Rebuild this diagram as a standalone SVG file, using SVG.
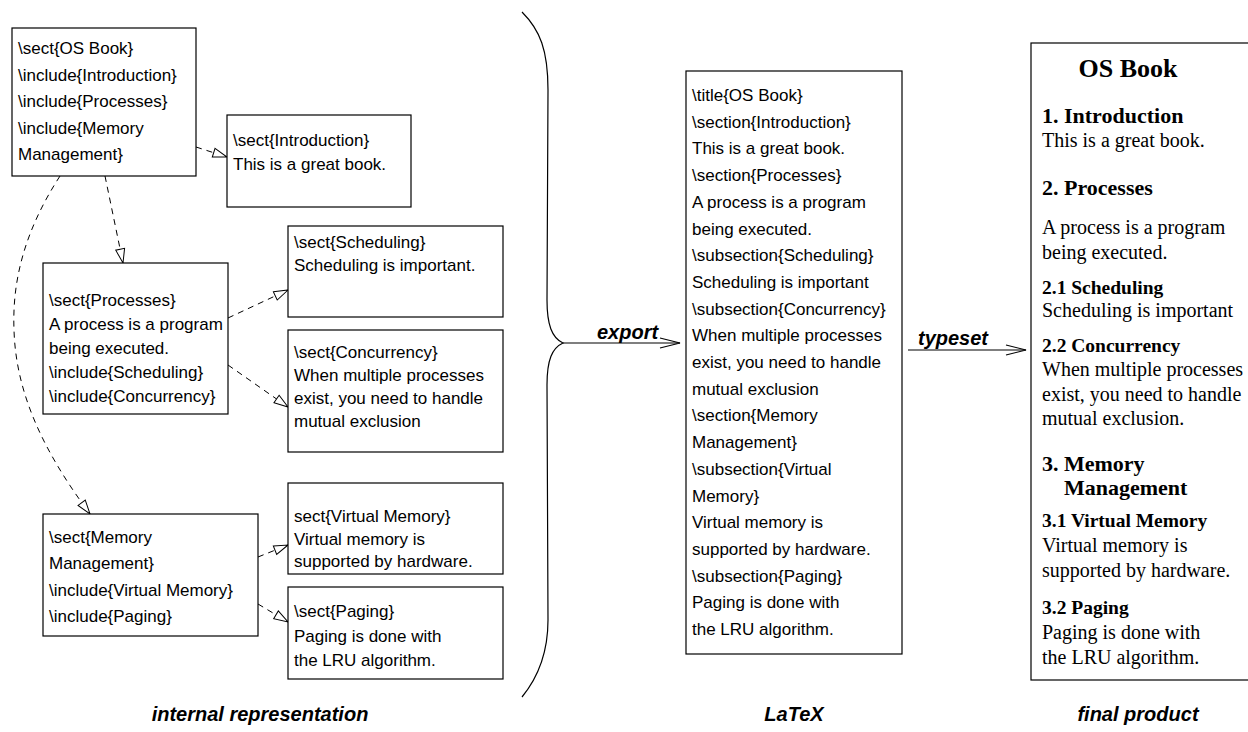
<svg xmlns="http://www.w3.org/2000/svg" width="1248" height="732" viewBox="0 0 1248 732">
<style>
.box{fill:#fff;stroke:#000;stroke-width:1.2}
.t{font-family:"Liberation Sans",Arial,sans-serif;font-size:17px;fill:#000}
.s{font-family:"Liberation Serif","Times New Roman",serif;font-size:20px;fill:#000}
.h{font-family:"Liberation Serif","Times New Roman",serif;font-size:22px;font-weight:bold;fill:#000}
.h2{font-family:"Liberation Serif","Times New Roman",serif;font-size:19.5px;font-weight:bold;fill:#000}
.lbl{font-family:"Liberation Sans",Arial,sans-serif;font-size:20px;font-weight:bold;font-style:italic;fill:#000}
.dash{fill:none;stroke:#000;stroke-width:1;stroke-dasharray:6,5;marker-end:url(#tri)}
.solid{fill:none;stroke:#000;stroke-width:1.2}
</style>
<defs>
<marker id="tri" markerUnits="userSpaceOnUse" markerWidth="16" markerHeight="12" refX="15" refY="6" orient="auto">
<path d="M1,1.5 L15,6 L1,10.5 Z" fill="#fff" stroke="#000" stroke-width="1" stroke-dasharray="none"/>
</marker>
<marker id="vee" markerUnits="userSpaceOnUse" markerWidth="22" markerHeight="14" refX="21" refY="7" orient="auto">
<path d="M1,2 L21,7 L1,12" fill="none" stroke="#000" stroke-width="1.2"/>
</marker>
</defs>

<g id="connectors">
<path class="dash" d="M196,147 L227,157"/>
<path class="dash" d="M105,176 L123,263"/>
<path class="dash" d="M60,176 C25,230 12,280 14,330 C16,400 50,460 90,514"/>
<path class="dash" d="M228,318 L288,290"/>
<path class="dash" d="M228,365 L288,407"/>
<path class="dash" d="M258,557 L288,545"/>
<path class="dash" d="M258,604 L288,622"/>
<path class="solid" d="M522,12 C540,30 548,50 548,90 L547,300 C547,325 552,338 563,343 C552,348 547,360 547,385 L548,620 C548,650 540,675 522,697"/>
<path class="solid" d="M563,343 L680,343" marker-end="url(#vee)"/>
<path class="solid" d="M908,350 L1026,350" marker-end="url(#vee)"/>
</g>

<g id="node-osbook">
<rect class="box" x="12" y="28" width="184" height="148"/>
<text class="t" x="18" y="54">\sect{OS Book}</text>
<text class="t" x="18" y="80.5">\include{Introduction}</text>
<text class="t" x="18" y="107">\include{Processes}</text>
<text class="t" x="18" y="133.5">\include{Memory</text>
<text class="t" x="18" y="160">Management}</text>
</g>

<g id="node-intro">
<rect class="box" x="227" y="115" width="184" height="92"/>
<text class="t" x="233" y="146">\sect{Introduction}</text>
<text class="t" x="233" y="170">This is a great book.</text>
</g>

<g id="node-processes">
<rect class="box" x="43" y="263" width="185" height="151"/>
<text class="t" x="49" y="306">\sect{Processes}</text>
<text class="t" x="49" y="330">A process is a program</text>
<text class="t" x="49" y="354">being executed.</text>
<text class="t" x="49" y="378">\include{Scheduling}</text>
<text class="t" x="49" y="402">\include{Concurrency}</text>
</g>

<g id="node-scheduling">
<rect class="box" x="288" y="226" width="215" height="91"/>
<text class="t" x="294" y="248">\sect{Scheduling}</text>
<text class="t" x="294" y="271">Scheduling is important.</text>
</g>

<g id="node-concurrency">
<rect class="box" x="288" y="330" width="215" height="122"/>
<text class="t" x="294" y="358">\sect{Concurrency}</text>
<text class="t" x="294" y="381">When multiple processes</text>
<text class="t" x="294" y="404">exist, you need to handle</text>
<text class="t" x="294" y="427">mutual exclusion</text>
</g>

<g id="node-memory">
<rect class="box" x="43" y="514" width="215" height="122"/>
<text class="t" x="49" y="543">\sect{Memory</text>
<text class="t" x="49" y="569">Management}</text>
<text class="t" x="49" y="596">\include{Virtual Memory}</text>
<text class="t" x="49" y="622">\include{Paging}</text>
</g>

<g id="node-virtual">
<rect class="box" x="288" y="483" width="215" height="91"/>
<text class="t" x="294" y="522">sect{Virtual Memory}</text>
<text class="t" x="294" y="545">Virtual memory is</text>
<text class="t" x="294" y="567">supported by hardware.</text>
</g>

<g id="node-paging">
<rect class="box" x="288" y="587" width="215" height="92"/>
<text class="t" x="294" y="617">\sect{Paging}</text>
<text class="t" x="294" y="642">Paging is done with</text>
<text class="t" x="294" y="666">the LRU algorithm.</text>
</g>

<g id="node-latex">
<rect class="box" x="686" y="71" width="216" height="583"/>
<text class="t" x="692" y="101">\title{OS Book}</text>
<text class="t" x="692" y="127.7">\section{Introduction}</text>
<text class="t" x="692" y="154.4">This is a great book.</text>
<text class="t" x="692" y="181.1">\section{Processes}</text>
<text class="t" x="692" y="207.8">A process is a program</text>
<text class="t" x="692" y="234.5">being executed.</text>
<text class="t" x="692" y="261.2">\subsection{Scheduling}</text>
<text class="t" x="692" y="287.9">Scheduling is important</text>
<text class="t" x="692" y="314.6">\subsection{Concurrency}</text>
<text class="t" x="692" y="341.3">When multiple processes</text>
<text class="t" x="692" y="368">exist, you need to handle</text>
<text class="t" x="692" y="394.7">mutual exclusion</text>
<text class="t" x="692" y="421.4">\section{Memory</text>
<text class="t" x="692" y="448.1">Management}</text>
<text class="t" x="692" y="474.8">\subsection{Virtual</text>
<text class="t" x="692" y="501.5">Memory}</text>
<text class="t" x="692" y="528.2">Virtual memory is</text>
<text class="t" x="692" y="554.9">supported by hardware.</text>
<text class="t" x="692" y="581.6">\subsection{Paging}</text>
<text class="t" x="692" y="608.3">Paging is done with</text>
<text class="t" x="692" y="635">the LRU algorithm.</text>
</g>

<g id="node-final">
<rect class="box" x="1031" y="43" width="230" height="637"/>
<text x="1128" y="77" text-anchor="middle" style="font-family:'Liberation Serif','Times New Roman',serif;font-size:26px;font-weight:bold">OS Book</text>
<text class="h" x="1042" y="123">1. Introduction</text>
<text class="s" x="1042" y="147">This is a great book.</text>
<text class="h" x="1042" y="195">2. Processes</text>
<text class="s" x="1042" y="234">A process is a program</text>
<text class="s" x="1042" y="259">being executed.</text>
<text class="h2" x="1042" y="294">2.1 Scheduling</text>
<text class="s" x="1042" y="317">Scheduling is important</text>
<text class="h2" x="1042" y="352">2.2 Concurrency</text>
<text class="s" x="1042" y="376">When multiple processes</text>
<text class="s" x="1042" y="401">exist, you need to handle</text>
<text class="s" x="1042" y="425">mutual exclusion.</text>
<text class="h" x="1042" y="471">3. Memory</text>
<text class="h" x="1064" y="495">Management</text>
<text class="h2" x="1042" y="527">3.1 Virtual Memory</text>
<text class="s" x="1042" y="552">Virtual memory is</text>
<text class="s" x="1042" y="577">supported by hardware.</text>
<text class="h2" x="1042" y="614">3.2 Paging</text>
<text class="s" x="1042" y="639">Paging is done with</text>
<text class="s" x="1042" y="664">the LRU algorithm.</text>
</g>

<g id="labels">
<text class="lbl" x="597" y="339">export</text>
<text class="lbl" x="918" y="345" font-size="21">typeset</text>
<text class="lbl" x="260" y="721" text-anchor="middle">internal representation</text>
<text class="lbl" x="794" y="721" text-anchor="middle">LaTeX</text>
<text class="lbl" x="1138" y="721" text-anchor="middle">final product</text>
</g>
</svg>
